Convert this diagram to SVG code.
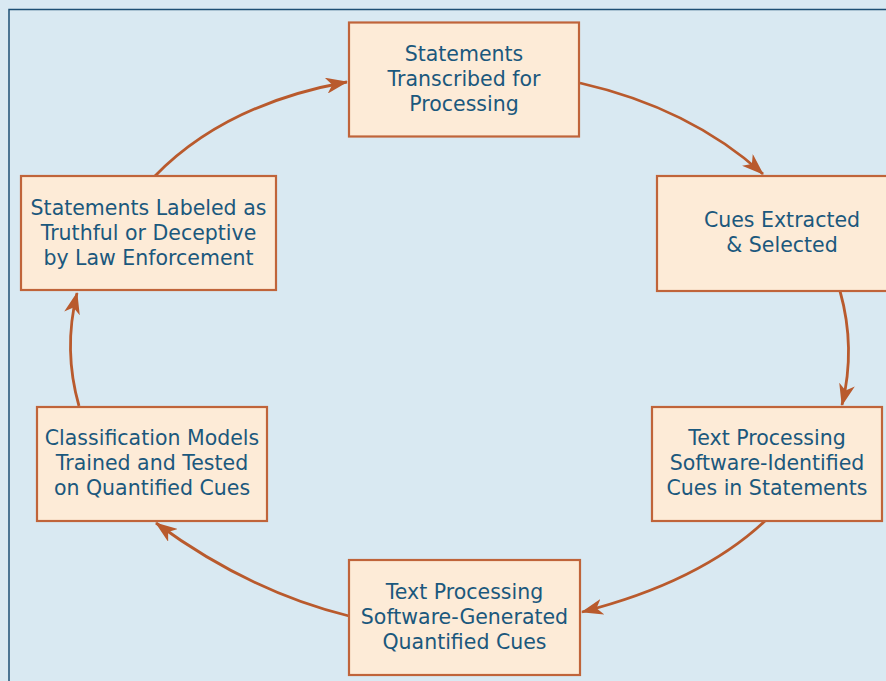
<svg xmlns="http://www.w3.org/2000/svg" width="886" height="681" viewBox="0 0 886 681">
<defs>
<style>
.bg{fill:#d9e9f2}
.frame{fill:none;stroke:#1d4f74;stroke-width:1.5}
.box{fill:#fdebd7;stroke:#c0643a;stroke-width:2.2}
.lbl{font-family:"DejaVu Sans",sans-serif;font-size:20.5px;fill:#1b587d;text-anchor:middle}
.arr{fill:none;stroke:#b95a2d;stroke-width:2.8;marker-end:url(#ah)}
</style>
<marker id="ah" markerUnits="userSpaceOnUse" viewBox="0 0 22 16" refX="21" refY="8" markerWidth="22" markerHeight="16" orient="auto">
<path d="M0,0 L22,8 L0,16 L6,8 Z" fill="#b95a2d"/>
</marker>
</defs>
<rect class="bg" x="0" y="0" width="886" height="681"/>
<rect class="frame" x="9" y="9.5" width="900" height="700"/>
<g id="connectors">
<path class="arr" d="M580,83 Q690,108 763,174"/>
<path class="arr" d="M840,291 Q856,348 842,405"/>
<path class="arr" d="M765,521 Q700,582 582,612"/>
<path class="arr" d="M349,616 Q250,592 156,523"/>
<path class="arr" d="M79,406 Q63,350 77,293"/>
<path class="arr" d="M155,176 Q225,104 347,82"/>
</g>
<g id="n1">
<rect class="box" x="349" y="22.5" width="230" height="114"/>
<text class="lbl" x="464" y="61">Statements</text>
<text class="lbl" x="464" y="86">Transcribed for</text>
<text class="lbl" x="464" y="111">Processing</text>
</g>
<g id="n2">
<rect class="box" x="657" y="176" width="240" height="115"/>
<text class="lbl" x="782" y="227">Cues Extracted</text>
<text class="lbl" x="782" y="252">&amp; Selected</text>
</g>
<g id="n3">
<rect class="box" x="652" y="407" width="230" height="114"/>
<text class="lbl" x="767" y="445">Text Processing</text>
<text class="lbl" x="767" y="470">Software-Identified</text>
<text class="lbl" x="767" y="495">Cues in Statements</text>
</g>
<g id="n4">
<rect class="box" x="349" y="560" width="231" height="115"/>
<text class="lbl" x="464.5" y="599">Text Processing</text>
<text class="lbl" x="464.5" y="624">Software-Generated</text>
<text class="lbl" x="464.5" y="649">Quantified Cues</text>
</g>
<g id="n5">
<rect class="box" x="37" y="407" width="230" height="114"/>
<text class="lbl" x="152" y="445">Classification Models</text>
<text class="lbl" x="152" y="470">Trained and Tested</text>
<text class="lbl" x="152" y="495">on Quantified Cues</text>
</g>
<g id="n6">
<rect class="box" x="21" y="176" width="255" height="114"/>
<text class="lbl" x="148.5" y="215">Statements Labeled as</text>
<text class="lbl" x="148.5" y="240">Truthful or Deceptive</text>
<text class="lbl" x="148.5" y="265">by Law Enforcement</text>
</g>
</svg>
